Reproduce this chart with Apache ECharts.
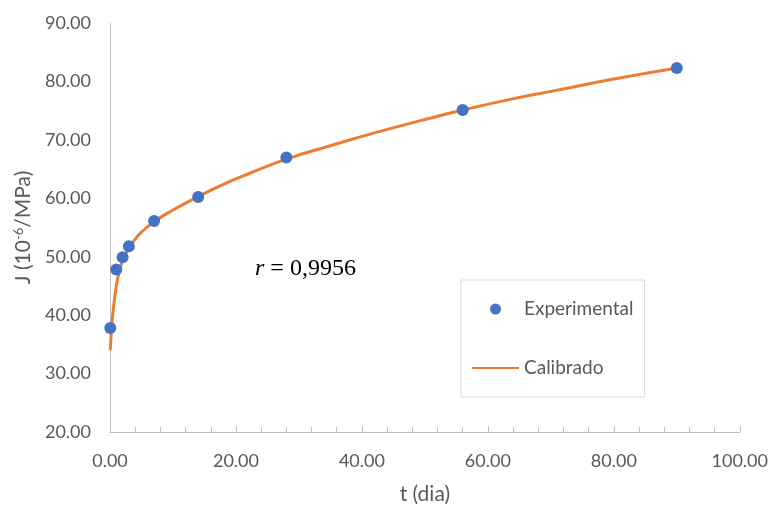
<!DOCTYPE html>
<html>
<head>
<meta charset="utf-8">
<script src="https://cdn.jsdelivr.net/npm/echarts@6/dist/echarts.min.js"></script>
<style>
html,body{margin:0;padding:0;background:#fff;}
#chart{width:771px;height:510px;}
</style>
</head>
<body>
<div id="chart"></div>
<script>
// Experimental data
var expT = [0.05, 1, 2, 3, 7, 14, 28, 56, 90];
var expJ = [37.8, 47.8, 49.9, 51.8, 56.1, 60.2, 67.0, 75.1, 82.3];
// Calibrated curve
var calT = [0.05, 0.2, 0.5, 1, 1.5, 2, 3, 4, 5, 7, 10, 14, 18, 22, 28, 35, 42, 49, 56, 63, 70, 80, 90];
var calJ = [34.0, 37.0, 40.8, 45.0, 47.6, 49.3, 51.5, 53.0, 54.2, 56.0, 58.0, 60.3, 62.4, 64.2, 66.7, 69.0, 71.2, 73.2, 75.1, 76.8, 78.3, 80.4, 82.3];
var xTicks = [0, 20, 40, 60, 80, 100];
var yTicks = [20, 30, 40, 50, 60, 70, 80, 90];
var seriesNames = ['Experimental', 'Calibrado'];
var rText = '0,9956';

var FONT = 'Lato, "Open Sans", sans-serif';
var TXT = '#595959';
var AX = '#bfbfbf';

var chart = echarts.init(document.getElementById('chart'), null, {renderer: 'canvas'});
chart.setOption({
  animation: false,
  backgroundColor: '#fff',
  grid: {left: 110, right: 31, top: 23, bottom: 76, containLabel: false},
  xAxis: {
    type: 'value',
    min: xTicks[0], max: xTicks[xTicks.length - 1], interval: 20,
    name: 't (dia)', nameLocation: 'middle', nameGap: 52,
    nameTextStyle: {fontFamily: FONT, fontSize: 21, color: TXT},
    axisLine: {show: true, lineStyle: {color: AX, width: 1}},
    axisTick: {show: true, inside: true, length: 6, lineStyle: {color: AX}},
    minorTick: {show: true, splitNumber: 5, length: 5, lineStyle: {color: AX}},
    splitLine: {show: false},
    axisLabel: {fontFamily: FONT, fontSize: 18, color: TXT, margin: 20,
      formatter: function (v) { return v.toFixed(2); }}
  },
  yAxis: {
    type: 'value',
    min: yTicks[0], max: yTicks[yTicks.length - 1], interval: 10,
    name: '{a|J (10}{s|-6}{a|/MPa)}', nameLocation: 'middle', nameGap: 76,
    nameRotate: 90,
    nameTextStyle: {fontFamily: FONT, fontSize: 21, color: TXT,
      rich: {a: {fontFamily: FONT, fontSize: 21, color: TXT},
             s: {fontFamily: FONT, fontSize: 13, color: TXT, verticalAlign: 'top', padding: [0, 0, 9, 0]}}},
    axisLine: {show: true, lineStyle: {color: AX, width: 1}},
    axisTick: {show: false},
    splitLine: {show: false},
    axisLabel: {fontFamily: FONT, fontSize: 18, color: TXT, margin: 19,
      formatter: function (v) { return v.toFixed(2); }}
  },
  legend: {
    data: [{name: seriesNames[0]}, {name: seriesNames[1], itemStyle: {opacity: 0}}],
    orient: 'vertical',
    left: 461, top: 280,
    padding: [19, 11, 19, 10],
    itemGap: 39,
    itemWidth: 47, itemHeight: 11,
    borderColor: '#d9d9d9', borderWidth: 1,
    textStyle: {fontFamily: FONT, fontSize: 19, color: TXT, lineHeight: 20}
  },
  graphic: [{
    type: 'text', left: 255, top: 257,
    style: {
      text: '{i|r} = ' + rText,
      fontFamily: '"Liberation Serif", "DejaVu Serif", serif', fontSize: 24, fill: '#000',
      rich: {i: {fontFamily: '"Liberation Serif", serif', fontStyle: 'italic', fontSize: 24, color: '#000'}}
    }
  }],
  series: [{
    name: seriesNames[1],
    type: 'line',
    data: calT.map(function (t, i) { return [t, calJ[i]]; }),
    smooth: 0.5,
    showSymbol: false,
    symbol: 'none',
    lineStyle: {color: '#ED7D31', width: 3},
    itemStyle: {color: '#ED7D31'},
    z: 2
  }, {
    name: seriesNames[0],
    type: 'scatter',
    data: expT.map(function (t, i) { return [t, expJ[i]]; }),
    symbol: 'circle',
    symbolSize: 12,
    itemStyle: {color: '#4472C4', opacity: 1},
    z: 3
  }]
});
</script>
</body>
</html>
